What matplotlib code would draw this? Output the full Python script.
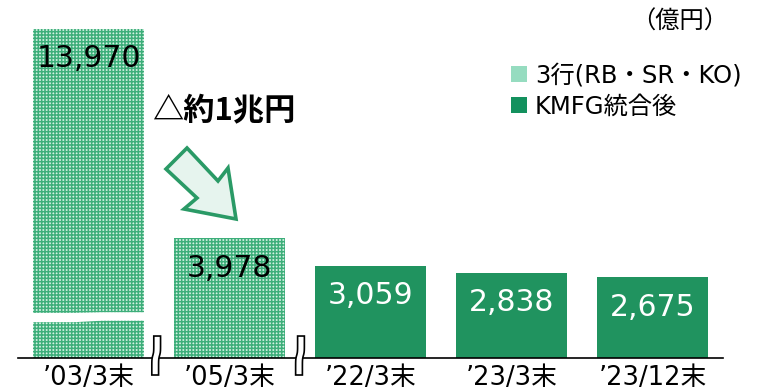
import matplotlib
matplotlib.use("Agg")
import matplotlib.pyplot as plt
from matplotlib.patches import Polygon, Patch
import numpy as np

plt.rcParams['font.family'] = ['DejaVu Sans', 'Noto Sans CJK JP']
plt.rcParams['hatch.linewidth'] = 1.1

# Data (億円)
categories = ["’03/3末", "’05/3末", "’22/3末", "’23/3末", "’23/12末"]
balances = [13970, 3978, 3059, 2838, 2675]
series_group = ["3行", "3行", "KMFG", "KMFG", "KMFG"]
legend_labels = ["3行(RB・SR・KO)", "KMFG統合後"]

LIGHT = "#96dcc0"
HATCH_FACE = "#d4f1e3"
HATCH_GREEN = "#3dae7a"
DARK = "#20935f"

# amount hidden by the axis break on the first bar
BREAK_CUT = 3040
PX_PER_UNIT = 0.0301

W, H = 757, 391
fig = plt.figure(figsize=(W / 100, H / 100), dpi=100)
ax = fig.add_axes([18 / W, 33 / H, 705 / W, 358 / H])
ax.set_xlim(-0.5, 4.5)
ax.set_ylim(0, 358 / PX_PER_UNIT)

x = np.arange(len(categories))
drawn = [v - BREAK_CUT if i == 0 else v for i, v in enumerate(balances)]

for xi, h, grp, v in zip(x, drawn, series_group, balances):
    if grp == "3行":
        ax.bar(xi, h, width=0.79, facecolor=HATCH_FACE, edgecolor=HATCH_GREEN,
               linewidth=0, hatch="+++++", zorder=2)
        color = "black"
    else:
        ax.bar(xi, h, width=0.79, color=DARK, linewidth=0, zorder=2)
        color = "white"
    ax.annotate(f"{v:,}", (xi, h), xytext=(0, -21.5), textcoords="offset points",
                ha="center", va="center", fontsize=21.5, color=color, zorder=4)

# white gap marking the break inside the first bar
gx = np.linspace(-0.396, 0.396, 30)
lo = 1190 + 50 * np.clip((gx + 0.1) / 0.2, 0, 1)
hi = 1500 + 20 * np.clip((gx + 0.1) / 0.2, 0, 1)
gap = Polygon(np.column_stack([np.r_[gx, gx[::-1]], np.r_[lo, hi[::-1]]]),
              closed=True, facecolor="white", edgecolor="none", zorder=3)
ax.add_patch(gap)

# axis-break marks between eras
for bx in (0.48, 1.5):
    t = np.linspace(0, 1, 20)
    ys = -565 + t * (730 + 565)
    wig = 0.007 * np.tanh((t - 0.5) * 12)
    left = bx - 0.024 + wig
    right = bx + 0.024 + wig
    pts = np.column_stack([np.r_[left, right[::-1]], np.r_[ys, ys[::-1]]])
    ax.add_patch(Polygon(pts, closed=True, facecolor="white", edgecolor="black",
                         linewidth=1.2, clip_on=False, zorder=5))

for s in ["top", "right", "left"]:
    ax.spines[s].set_visible(False)
ax.spines["bottom"].set_linewidth(1.2)
ax.set_yticks([])
ax.set_xticks(x)
ax.set_xticklabels(categories, fontsize=18.5)
ax.tick_params(axis="x", length=0, pad=5)

# unit
fig.text(728 / W, 1 - 22 / H, "（億円）", ha="right", va="center", fontsize=17.5,
         family=["Noto Sans CJK JP"])

# legend
handles = [Patch(facecolor=LIGHT, edgecolor="none"),
           Patch(facecolor="#13915e", edgecolor="none")]
fig.legend(handles, legend_labels, loc="upper left",
           bbox_to_anchor=(511 / W, 1 - 64 / H), frameon=False, fontsize=17.5,
           handlelength=0.64, handleheight=0.64, handletextpad=0.35,
           labelspacing=0.28, borderpad=0, borderaxespad=0)

# reduction callout
fig.text(152 / W, 1 - 111 / H, "△約1兆円", ha="left", va="center", fontsize=22.5,
         fontweight="bold", family=["Noto Sans CJK JP"])

def fpt(px, py):
    return (px / W, 1 - py / H)

arrow_px = [(166, 169), (187, 148), (218, 181), (228, 168), (236, 219),
            (184, 209), (197, 198)]
fig.patches.append(Polygon([fpt(*p) for p in arrow_px], closed=True,
                           transform=fig.transFigure, facecolor="#e6f4ee",
                           edgecolor="#2a9a66", linewidth=2.6, joinstyle="miter"))

fig.savefig("out.png", dpi=100)
